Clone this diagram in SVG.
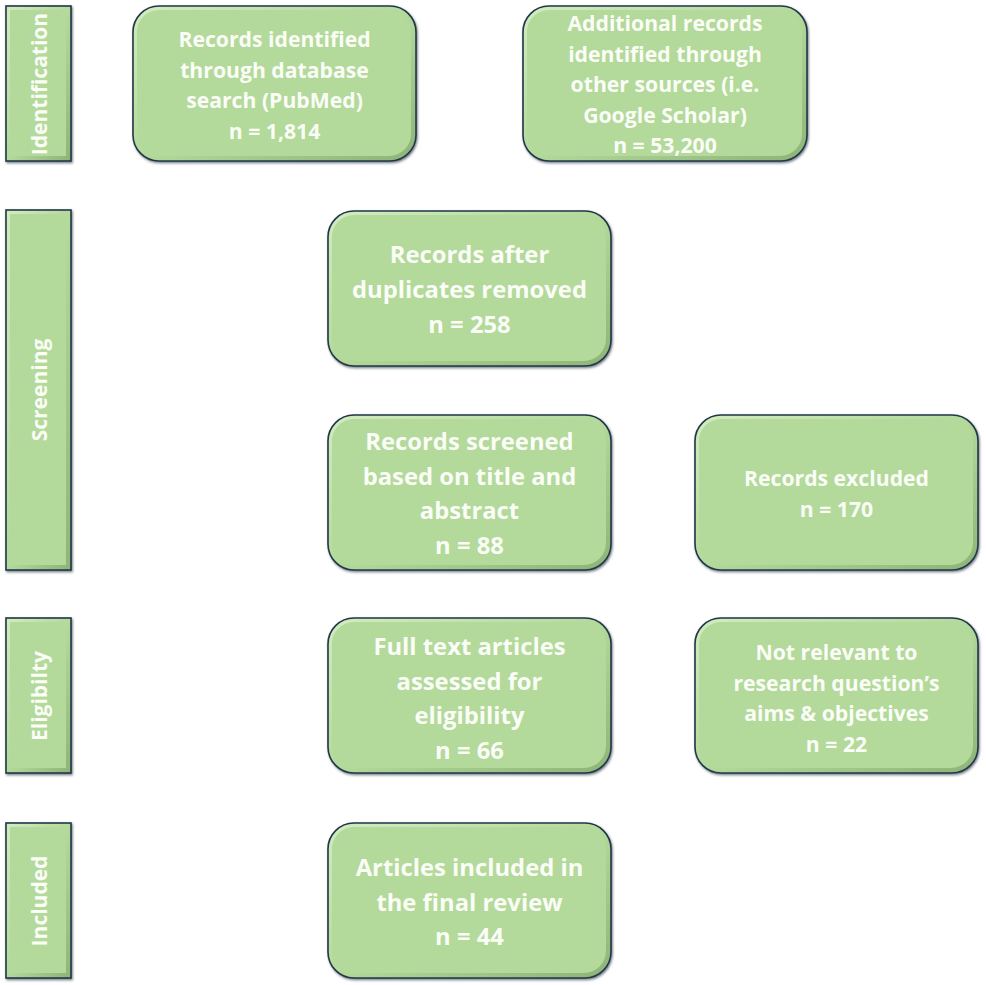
<svg xmlns="http://www.w3.org/2000/svg" width="986" height="985" viewBox="0 0 986 985">
<defs>
<linearGradient id="bevel" x1="0" y1="0" x2="1" y2="1">
<stop offset="0" stop-color="#d2ecc0"/>
<stop offset="0.5" stop-color="#b3d99b"/>
<stop offset="1" stop-color="#8db377"/>
</linearGradient>
<filter id="sh" x="-5%" y="-5%" width="110%" height="110%">
<feDropShadow dx="1" dy="1.5" stdDeviation="1" flood-color="#1b2c3a" flood-opacity="0.6"/>
</filter>
</defs>
<style>
.outer{fill:url(#bevel);stroke:#223748;stroke-width:1.6;filter:url(#sh)}
.inner{fill:#b3d99b}
text{font-family:"Open Sans","Liberation Sans",sans-serif;font-weight:bold;fill:#fbfdf7;text-anchor:middle}
.big{font-size:23.8px}
.med{font-size:21.2px}
.side{font-size:21px}
</style>
<rect width="986" height="985" fill="#ffffff"/>

<g id="stage-identification">
<rect class="outer" x="6" y="6" width="65" height="155"/>
<rect class="inner" x="10" y="10" width="56" height="146"/>
<text class="side" transform="translate(47,84) rotate(-90)">Identification</text>
</g>
<g id="stage-screening">
<rect class="outer" x="6" y="210" width="65" height="360"/>
<rect class="inner" x="10" y="214" width="56" height="351"/>
<text class="side" transform="translate(47,390) rotate(-90)">Screening</text>
</g>
<g id="stage-eligibility">
<rect class="outer" x="6" y="618" width="65" height="155"/>
<rect class="inner" x="10" y="622" width="56" height="146"/>
<text class="side" transform="translate(47,696) rotate(-90)">Eligibilty</text>
</g>
<g id="stage-included">
<rect class="outer" x="6" y="823" width="65" height="155"/>
<rect class="inner" x="10" y="827" width="56" height="146"/>
<text class="side" transform="translate(47,901) rotate(-90)">Included</text>
</g>

<g id="box-pubmed">
<rect class="outer" x="133" y="6" width="283" height="155" rx="26"/>
<rect class="inner" x="137" y="10" width="274" height="146" rx="22"/>
<text class="med" x="274.5" y="47">Records identified</text>
<text class="med" x="274.5" y="77.5">through database</text>
<text class="med" x="274.5" y="108">search (PubMed)</text>
<text class="med" x="274.5" y="138.5">n = 1,814</text>
</g>
<g id="box-other">
<rect class="outer" x="523" y="6" width="284" height="155" rx="26"/>
<rect class="inner" x="527" y="10" width="275" height="146" rx="22"/>
<text class="med" x="665" y="31">Additional records</text>
<text class="med" x="665" y="61.5">identified through</text>
<text class="med" x="665" y="92">other sources (i.e.</text>
<text class="med" x="665" y="122.5">Google Scholar)</text>
<text class="med" x="665" y="153">n = 53,200</text>
</g>
<g id="box-duplicates">
<rect class="outer" x="328" y="211" width="283" height="155" rx="26"/>
<rect class="inner" x="332" y="215" width="274" height="146" rx="22"/>
<text class="big" x="469.5" y="263">Records after</text>
<text class="big" x="469.5" y="298">duplicates removed</text>
<text class="big" x="469.5" y="333">n = 258</text>
</g>
<g id="box-screened">
<rect class="outer" x="328" y="415" width="283" height="155" rx="26"/>
<rect class="inner" x="332" y="419" width="274" height="146" rx="22"/>
<text class="big" x="469.5" y="450">Records screened</text>
<text class="big" x="469.5" y="484.5">based on title and</text>
<text class="big" x="469.5" y="519">abstract</text>
<text class="big" x="469.5" y="553.5">n = 88</text>
</g>
<g id="box-excluded">
<rect class="outer" x="695" y="415" width="283" height="155" rx="26"/>
<rect class="inner" x="699" y="419" width="274" height="146" rx="22"/>
<text class="med" x="836.5" y="486">Records excluded</text>
<text class="med" x="836.5" y="516.5">n = 170</text>
</g>
<g id="box-fulltext">
<rect class="outer" x="328" y="618" width="283" height="155" rx="26"/>
<rect class="inner" x="332" y="622" width="274" height="146" rx="22"/>
<text class="big" x="469.5" y="655">Full text articles</text>
<text class="big" x="469.5" y="689.5">assessed for</text>
<text class="big" x="469.5" y="724">eligibility</text>
<text class="big" x="469.5" y="758.5">n = 66</text>
</g>
<g id="box-notrelevant">
<rect class="outer" x="695" y="618" width="283" height="155" rx="26"/>
<rect class="inner" x="699" y="622" width="274" height="146" rx="22"/>
<text class="med" x="836.5" y="660">Not relevant to</text>
<text class="med" x="836.5" y="690.5">research question’s</text>
<text class="med" x="836.5" y="721">aims &amp; objectives</text>
<text class="med" x="836.5" y="751.5">n = 22</text>
</g>
<g id="box-included">
<rect class="outer" x="328" y="823" width="283" height="155" rx="26"/>
<rect class="inner" x="332" y="827" width="274" height="146" rx="22"/>
<text class="big" x="469.5" y="876">Articles included in</text>
<text class="big" x="469.5" y="910.5">the final review</text>
<text class="big" x="469.5" y="945">n = 44</text>
</g>

<g id="connectors"></g>
</svg>
